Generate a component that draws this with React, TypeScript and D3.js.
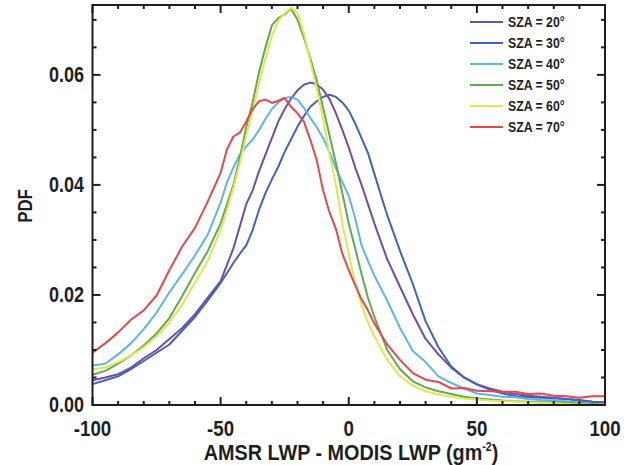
import React from "react";
import * as d3 from "d3";

// ---------- data ----------
const xValues = [
  -100, -95, -90, -85, -80, -75, -70, -65, -60, -55, -50,
  -47.5, -45, -42.5, -40, -37.5, -35, -32.5, -30, -27.5, -25, -22.5, -20,
  -17.5, -15, -12.5, -10, -7.5, -5, -2.5, 0, 2.5, 5, 7.5, 10,
  15, 20, 25, 30, 35, 40, 45, 50, 55, 60, 65, 70, 75, 80, 85, 90, 95, 100,
];

const sza20 = [
  0.0045, 0.0050, 0.0056, 0.0068, 0.0085, 0.0100, 0.0120, 0.0140, 0.0165, 0.0195, 0.0225,
  0.0255, 0.0285, 0.0325, 0.0365, 0.0390, 0.0425, 0.0455, 0.0485, 0.0515, 0.0538, 0.0557, 0.0572,
  0.0582, 0.0586, 0.0583, 0.0573, 0.0556, 0.0530, 0.0500, 0.0468, 0.0432, 0.0400, 0.0365, 0.0330,
  0.0265, 0.0215, 0.0165, 0.0120, 0.0092, 0.0068, 0.0050, 0.0038, 0.0030, 0.0024, 0.0020, 0.0017,
  0.0015, 0.0013, 0.0011, 0.0008, 0.0006, 0.0005,
];

const sza30 = [
  0.0038, 0.0045, 0.0052, 0.0065, 0.0080, 0.0095, 0.0110, 0.0135, 0.0160, 0.0190, 0.0222,
  0.0240, 0.0258, 0.0275, 0.0290, 0.0318, 0.0355, 0.0385, 0.0410, 0.0433, 0.0460, 0.0483, 0.0506,
  0.0525, 0.0542, 0.0552, 0.0560, 0.0564, 0.0560, 0.0550, 0.0535, 0.0512, 0.0485, 0.0458, 0.0420,
  0.0345, 0.0280, 0.0220, 0.0152, 0.0105, 0.0070, 0.0050, 0.0037, 0.0028, 0.0021, 0.0016, 0.0014,
  0.0013, 0.0012, 0.0011, 0.0009, 0.0006, 0.0004,
];

const sza40 = [
  0.0072, 0.0075, 0.0092, 0.0112, 0.0138, 0.0168, 0.0205, 0.0238, 0.0272, 0.0310, 0.0368,
  0.0405, 0.0432, 0.0455, 0.0470, 0.0482, 0.0500, 0.0520, 0.0538, 0.0550, 0.0558, 0.0560, 0.0555,
  0.0540, 0.0522, 0.0505, 0.0485, 0.0460, 0.0430, 0.0405, 0.0380, 0.0340, 0.0290, 0.0262, 0.0235,
  0.0190, 0.0140, 0.0098, 0.0078, 0.0052, 0.0040, 0.0030, 0.0021, 0.0018, 0.0015, 0.0014, 0.0011,
  0.0009, 0.0008, 0.0007, 0.0004, 0.0002, 0.0002,
];

const sza50 = [
  0.0055, 0.0062, 0.0075, 0.0090, 0.0108, 0.0130, 0.0158, 0.0198, 0.0240, 0.0280, 0.0330,
  0.0365, 0.0400, 0.0450, 0.0505, 0.0550, 0.0605, 0.0650, 0.0690, 0.0703, 0.0710, 0.0720, 0.0700,
  0.0668, 0.0630, 0.0590, 0.0540, 0.0490, 0.0440, 0.0385, 0.0330, 0.0285, 0.0238, 0.0195, 0.0160,
  0.0100, 0.0065, 0.0043, 0.0032, 0.0025, 0.0020, 0.0015, 0.0012, 0.0010, 0.0008, 0.0007, 0.0006,
  0.0005, 0.0005, 0.0004, 0.0003, 0.0002, 0.0002,
];

const sza60 = [
  0.0065, 0.0068, 0.0078, 0.0090, 0.0105, 0.0125, 0.0150, 0.0182, 0.0222, 0.0262, 0.0318,
  0.0355, 0.0395, 0.0440, 0.0490, 0.0535, 0.0585, 0.0630, 0.0670, 0.0698, 0.0712, 0.0722, 0.0712,
  0.0675, 0.0625, 0.0575, 0.0520, 0.0455, 0.0400, 0.0330, 0.0275, 0.0222, 0.0182, 0.0150, 0.0125,
  0.0082, 0.0052, 0.0035, 0.0025, 0.0019, 0.0015, 0.0012, 0.0010, 0.0008, 0.0007, 0.0007, 0.0005,
  0.0004, 0.0003, 0.0002, 0.0001, 0.0000, 0.0001,
];

const sza70 = [
  0.0095, 0.0112, 0.0132, 0.0155, 0.0172, 0.0199, 0.0245, 0.0288, 0.0322, 0.0370, 0.0422,
  0.0465, 0.0488, 0.0495, 0.0515, 0.0538, 0.0552, 0.0555, 0.0549, 0.0553, 0.0558, 0.0542, 0.0530,
  0.0515, 0.0482, 0.0445, 0.0390, 0.0350, 0.0320, 0.0275, 0.0245, 0.0218, 0.0192, 0.0172, 0.0148,
  0.0110, 0.0082, 0.0058, 0.0046, 0.0042, 0.0030, 0.0031, 0.0026, 0.0025, 0.0024, 0.0024, 0.0020,
  0.0021, 0.0017, 0.0016, 0.0013, 0.0016, 0.0016,
];

const seriesNames = ["20", "30", "40", "50", "60", "70"];
const seriesColors = ["#6f4f9f", "#4461c2", "#5cb6e6", "#5fab52", "#e3e64c", "#e6474b"];
const seriesData = [sza20, sza30, sza40, sza50, sza60, sza70];

const xTickValues = [-100, -50, 0, 50, 100];
const xTickLabels = ["-100", "-50", "0", "50", "100"];
const yTickValues = [0, 0.02, 0.04, 0.06];
const yTickLabels = ["0.00", "0.02", "0.04", "0.06"];

const FONT = "'Liberation Sans', Arial, Helvetica, sans-serif";

type CTProps = {
  x: number;
  y: number;
  size: number;
  anchor?: "start" | "middle" | "end";
  rotate?: number;
  squeeze?: number;
  children?: React.ReactNode;
};

function CText({ x, y, size, anchor = "start", rotate, squeeze = 0.8, children }: CTProps) {
  const tr = `translate(${x},${y})${rotate ? ` rotate(${rotate})` : ""} scale(${squeeze},1)`;
  return (
    <text transform={tr} textAnchor={anchor} fontSize={size} fontWeight="bold" fill="#1f1f1f">
      {children}
    </text>
  );
}

export default function App() {
  const W = 628;
  const H = 465;
  const L = 92.5, R = 605, T = 5, B = 405;
  const x = d3.scaleLinear().domain([-100, 100]).range([L, R]);
  const y = d3.scaleLinear().domain([0, 0.0727]).range([B, T]);

  const line = d3
    .line<number>()
    .x((_, i) => x(xValues[i]))
    .y((d) => y(d));

  const xMinor = d3.range(-90, 100, 10).filter((v) => v % 50 !== 0);
  const yMinor = d3
    .range(0.005, 0.0727, 0.005)
    .filter((v) => Math.abs(v / 0.02 - Math.round(v / 0.02)) > 1e-6);

  const axisColor = "#1e1e1e";
  const majorLen = 8;
  const minorLen = 4;

  return (
    <svg
      width={W}
      height={H}
      style={{ position: "absolute", left: 0, top: 0, display: "block", background: "#fff" }}
      fontFamily={FONT}
    >
      <defs>
        <clipPath id="plotClip">
          <rect x={L} y={T} width={R - L} height={B - T} />
        </clipPath>
      </defs>
      <rect x={0} y={0} width={W} height={H} fill="#fff" />

      {/* series */}
      <g clipPath="url(#plotClip)">
        {seriesData.map((s, k) => (
          <path
            key={k}
            d={line(s) || ""}
            fill="none"
            stroke={seriesColors[k]}
            strokeWidth={2}
            strokeLinejoin="round"
          />
        ))}
      </g>

      {/* frame */}
      <rect x={L} y={T} width={R - L} height={B - T} fill="none" stroke={axisColor} strokeWidth={2} />

      {/* x ticks (bottom & top) */}
      {xTickValues.map((v) => (
        <g key={"xM" + v}>
          <line x1={x(v)} x2={x(v)} y1={B} y2={B - majorLen} stroke={axisColor} strokeWidth={2} />
          <line x1={x(v)} x2={x(v)} y1={T} y2={T + majorLen} stroke={axisColor} strokeWidth={2} />
        </g>
      ))}
      {xMinor.map((v) => (
        <g key={"xm" + v}>
          <line x1={x(v)} x2={x(v)} y1={B} y2={B - minorLen} stroke={axisColor} strokeWidth={2} />
          <line x1={x(v)} x2={x(v)} y1={T} y2={T + minorLen} stroke={axisColor} strokeWidth={2} />
        </g>
      ))}
      {/* y ticks (left & right) */}
      {yTickValues.map((v) => (
        <g key={"yM" + v}>
          <line x1={L} x2={L + majorLen} y1={y(v)} y2={y(v)} stroke={axisColor} strokeWidth={2} />
          <line x1={R} x2={R - majorLen} y1={y(v)} y2={y(v)} stroke={axisColor} strokeWidth={2} />
        </g>
      ))}
      {yMinor.map((v, i) => (
        <g key={"ym" + i}>
          <line x1={L} x2={L + minorLen} y1={y(v)} y2={y(v)} stroke={axisColor} strokeWidth={2} />
          <line x1={R} x2={R - minorLen} y1={y(v)} y2={y(v)} stroke={axisColor} strokeWidth={2} />
        </g>
      ))}

      {/* tick labels */}
      {xTickValues.map((v, i) => (
        <CText key={"xl" + v} x={x(v)} y={436} size={22} anchor="middle" squeeze={0.85}>
          {xTickLabels[i]}
        </CText>
      ))}
      {yTickValues.map((v, i) => (
        <CText key={"yl" + v} x={84} y={y(v) + 7} size={22} anchor="end" squeeze={0.82}>
          {yTickLabels[i]}
        </CText>
      ))}

      {/* axis titles */}
      <CText x={351} y={460} size={22.5} anchor="middle" squeeze={0.88}>
        AMSR LWP - MODIS LWP (gm
        <tspan fontSize={12} dy={-9}>-2</tspan>
        <tspan dy={9}>)</tspan>
      </CText>
      <CText x={32} y={206} size={21} anchor="middle" rotate={-90}>
        PDF
      </CText>

      {/* legend */}
      {seriesNames.map((n, k) => {
        const ly = 22 + k * 21;
        return (
          <g key={"lg" + n}>
            <line x1={470} x2={503} y1={ly} y2={ly} stroke={seriesColors[k]} strokeWidth={2} />
            <CText x={508} y={ly + 5} size={15} squeeze={0.82}>
              {"SZA = " + n + "°"}
            </CText>
          </g>
        );
      })}
    </svg>
  );
}
